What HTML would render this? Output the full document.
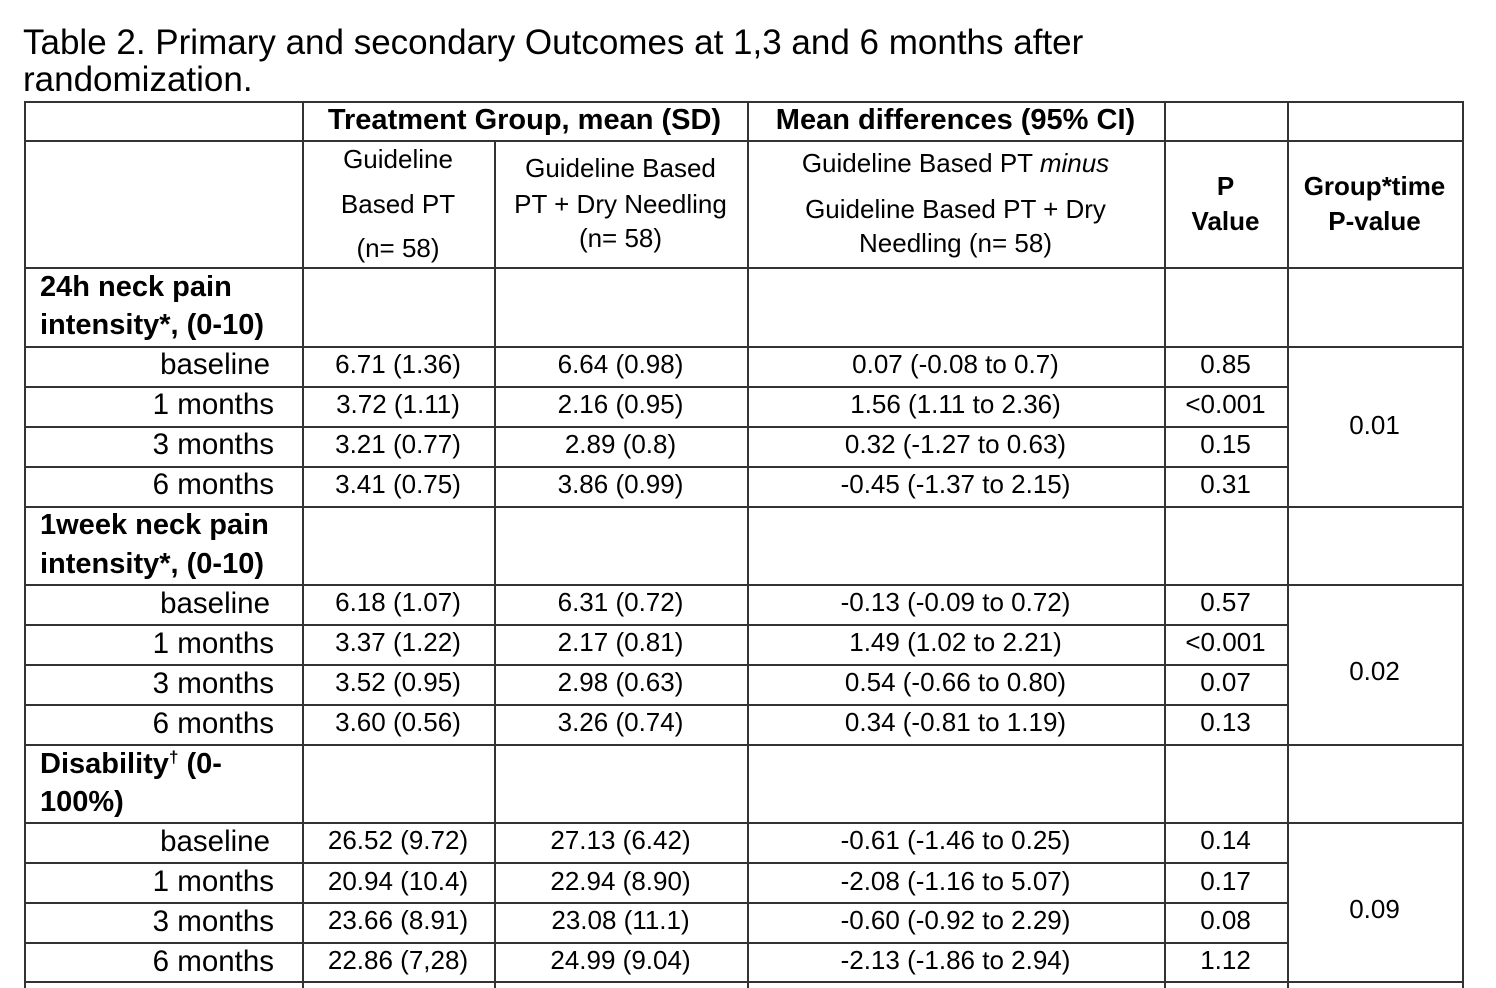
<!DOCTYPE html>
<html><head><meta charset="utf-8"><style>
html,body{margin:0;width:1496px;height:988px;overflow:hidden}
body{background:#fff;position:relative;font-family:"Liberation Sans",Arial,sans-serif;color:#000}
.t{position:absolute;height:32px;line-height:32px;white-space:nowrap;font-size:26px}
.c{text-align:center}
.r{text-align:right}
.b{font-weight:bold;font-size:29px}
.bh{font-weight:bold;font-size:26px}
.l{font-size:29.5px}
.h{position:absolute;height:0;border-top:2px solid #333}
.v{position:absolute;width:0;border-left:2px solid #333}
</style></head><body>
<div class="t" style="left:23px;top:24px;font-size:35px;height:38px;line-height:38px">Table 2. Primary and secondary Outcomes at 1,3 and 6 months after</div>
<div class="t" style="left:23px;top:61px;font-size:35px;height:38px;line-height:38px">randomization.</div>

<div class="h" style="left:24px;width:1439px;top:101px"></div>
<div class="h" style="left:24px;width:1439px;top:140px"></div>
<div class="h" style="left:24px;width:1439px;top:267px"></div>
<div class="h" style="left:24px;width:1439px;top:346px"></div>
<div class="h" style="left:24px;width:1264px;top:386px"></div>
<div class="h" style="left:24px;width:1264px;top:426px"></div>
<div class="h" style="left:24px;width:1264px;top:466px"></div>
<div class="h" style="left:24px;width:1439px;top:506px"></div>
<div class="h" style="left:24px;width:1439px;top:584px"></div>
<div class="h" style="left:24px;width:1264px;top:624px"></div>
<div class="h" style="left:24px;width:1264px;top:664px"></div>
<div class="h" style="left:24px;width:1264px;top:704px"></div>
<div class="h" style="left:24px;width:1439px;top:744px"></div>
<div class="h" style="left:24px;width:1439px;top:822px"></div>
<div class="h" style="left:24px;width:1264px;top:862px"></div>
<div class="h" style="left:24px;width:1264px;top:902px"></div>
<div class="h" style="left:24px;width:1264px;top:942px"></div>
<div class="h" style="left:24px;width:1439px;top:981px"></div>

<div class="v" style="left:24px;top:101px;height:887px"></div>
<div class="v" style="left:302px;top:101px;height:887px"></div>
<div class="v" style="left:494px;top:140px;height:848px"></div>
<div class="v" style="left:747px;top:101px;height:887px"></div>
<div class="v" style="left:1164px;top:101px;height:887px"></div>
<div class="v" style="left:1287px;top:101px;height:887px"></div>
<div class="v" style="left:1462px;top:101px;height:887px"></div>

<div class="t c b" style="left:302px;width:445px;top:104px">Treatment Group, mean (SD)</div>
<div class="t c b" style="left:747px;width:417px;top:104px">Mean differences (95% CI)</div>

<div class="t c" style="left:302px;width:192px;top:143px">Guideline</div>
<div class="t c" style="left:302px;width:192px;top:188px">Based PT</div>
<div class="t c" style="left:302px;width:192px;top:232px">(n= 58)</div>
<div class="t c" style="left:494px;width:253px;top:152px">Guideline Based</div>
<div class="t c" style="left:494px;width:253px;top:188px">PT + Dry Needling</div>
<div class="t c" style="left:494px;width:253px;top:222px">(n= 58)</div>
<div class="t c" style="left:747px;width:417px;top:147px">Guideline Based PT <i>minus</i></div>
<div class="t c" style="left:747px;width:417px;top:193px">Guideline Based PT + Dry</div>
<div class="t c" style="left:747px;width:417px;top:227px">Needling (n= 58)</div>
<div class="t c bh" style="left:1164px;width:123px;top:170px">P</div>
<div class="t c bh" style="left:1164px;width:123px;top:205px">Value</div>
<div class="t c bh" style="left:1287px;width:175px;top:170px">Group*time</div>
<div class="t c bh" style="left:1287px;width:175px;top:205px">P-value</div>

<div class="t b" style="left:40px;top:271px">24h neck pain</div>
<div class="t b" style="left:40px;top:309px">intensity*, (0-10)</div>
<div class="t r l" style="left:30px;width:240px;top:349px">baseline</div>
<div class="t r l" style="left:30px;width:244px;top:389px">1 months</div>
<div class="t r l" style="left:30px;width:244px;top:429px">3 months</div>
<div class="t r l" style="left:30px;width:244px;top:469px">6 months</div>
<div class="t c" style="left:302px;width:192px;top:348px">6.71 (1.36)</div>
<div class="t c" style="left:302px;width:192px;top:388px">3.72 (1.11)</div>
<div class="t c" style="left:302px;width:192px;top:428px">3.21 (0.77)</div>
<div class="t c" style="left:302px;width:192px;top:468px">3.41 (0.75)</div>
<div class="t c" style="left:494px;width:253px;top:348px">6.64 (0.98)</div>
<div class="t c" style="left:494px;width:253px;top:388px">2.16 (0.95)</div>
<div class="t c" style="left:494px;width:253px;top:428px">2.89 (0.8)</div>
<div class="t c" style="left:494px;width:253px;top:468px">3.86 (0.99)</div>
<div class="t c" style="left:747px;width:417px;top:348px">0.07 (-0.08 to 0.7)</div>
<div class="t c" style="left:747px;width:417px;top:388px">1.56 (1.11 to 2.36)</div>
<div class="t c" style="left:747px;width:417px;top:428px">0.32 (-1.27 to 0.63)</div>
<div class="t c" style="left:747px;width:417px;top:468px">-0.45 (-1.37 to 2.15)</div>
<div class="t c" style="left:1164px;width:123px;top:348px">0.85</div>
<div class="t c" style="left:1164px;width:123px;top:388px">&lt;0.001</div>
<div class="t c" style="left:1164px;width:123px;top:428px">0.15</div>
<div class="t c" style="left:1164px;width:123px;top:468px">0.31</div>
<div class="t c" style="left:1287px;width:175px;top:409px">0.01</div>

<div class="t b" style="left:40px;top:509px">1week neck pain</div>
<div class="t b" style="left:40px;top:548px">intensity*, (0-10)</div>
<div class="t r l" style="left:30px;width:240px;top:588px">baseline</div>
<div class="t r l" style="left:30px;width:244px;top:628px">1 months</div>
<div class="t r l" style="left:30px;width:244px;top:668px">3 months</div>
<div class="t r l" style="left:30px;width:244px;top:708px">6 months</div>
<div class="t c" style="left:302px;width:192px;top:586px">6.18 (1.07)</div>
<div class="t c" style="left:302px;width:192px;top:626px">3.37 (1.22)</div>
<div class="t c" style="left:302px;width:192px;top:666px">3.52 (0.95)</div>
<div class="t c" style="left:302px;width:192px;top:706px">3.60 (0.56)</div>
<div class="t c" style="left:494px;width:253px;top:586px">6.31 (0.72)</div>
<div class="t c" style="left:494px;width:253px;top:626px">2.17 (0.81)</div>
<div class="t c" style="left:494px;width:253px;top:666px">2.98 (0.63)</div>
<div class="t c" style="left:494px;width:253px;top:706px">3.26 (0.74)</div>
<div class="t c" style="left:747px;width:417px;top:586px">-0.13 (-0.09 to 0.72)</div>
<div class="t c" style="left:747px;width:417px;top:626px">1.49 (1.02 to 2.21)</div>
<div class="t c" style="left:747px;width:417px;top:666px">0.54 (-0.66 to 0.80)</div>
<div class="t c" style="left:747px;width:417px;top:706px">0.34 (-0.81 to 1.19)</div>
<div class="t c" style="left:1164px;width:123px;top:586px">0.57</div>
<div class="t c" style="left:1164px;width:123px;top:626px">&lt;0.001</div>
<div class="t c" style="left:1164px;width:123px;top:666px">0.07</div>
<div class="t c" style="left:1164px;width:123px;top:706px">0.13</div>
<div class="t c" style="left:1287px;width:175px;top:655px">0.02</div>

<div class="t b" style="left:40px;top:748px">Disability<sup style="font-size:17px;line-height:0">†</sup> (0-</div>
<div class="t b" style="left:40px;top:786px">100%)</div>
<div class="t r l" style="left:30px;width:240px;top:826px">baseline</div>
<div class="t r l" style="left:30px;width:244px;top:866px">1 months</div>
<div class="t r l" style="left:30px;width:244px;top:906px">3 months</div>
<div class="t r l" style="left:30px;width:244px;top:946px">6 months</div>
<div class="t c" style="left:302px;width:192px;top:824px">26.52 (9.72)</div>
<div class="t c" style="left:302px;width:192px;top:865px">20.94 (10.4)</div>
<div class="t c" style="left:302px;width:192px;top:904px">23.66 (8.91)</div>
<div class="t c" style="left:302px;width:192px;top:944px">22.86 (7,28)</div>
<div class="t c" style="left:494px;width:253px;top:824px">27.13 (6.42)</div>
<div class="t c" style="left:494px;width:253px;top:865px">22.94 (8.90)</div>
<div class="t c" style="left:494px;width:253px;top:904px">23.08 (11.1)</div>
<div class="t c" style="left:494px;width:253px;top:944px">24.99 (9.04)</div>
<div class="t c" style="left:747px;width:417px;top:824px">-0.61 (-1.46 to 0.25)</div>
<div class="t c" style="left:747px;width:417px;top:865px">-2.08 (-1.16 to 5.07)</div>
<div class="t c" style="left:747px;width:417px;top:904px">-0.60 (-0.92 to 2.29)</div>
<div class="t c" style="left:747px;width:417px;top:944px">-2.13 (-1.86 to 2.94)</div>
<div class="t c" style="left:1164px;width:123px;top:824px">0.14</div>
<div class="t c" style="left:1164px;width:123px;top:865px">0.17</div>
<div class="t c" style="left:1164px;width:123px;top:904px">0.08</div>
<div class="t c" style="left:1164px;width:123px;top:944px">1.12</div>
<div class="t c" style="left:1287px;width:175px;top:893px">0.09</div>
</body></html>
